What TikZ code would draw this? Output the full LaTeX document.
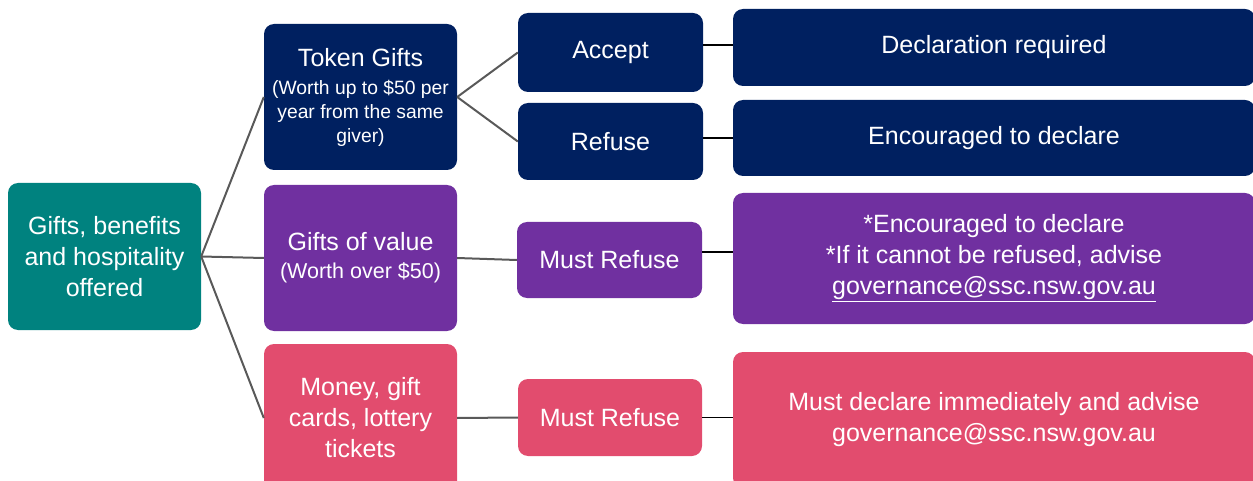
\documentclass[tikz,border=0pt]{standalone}
\usepackage{fontspec}
\setmainfont{Liberation Sans}
\definecolor{cteal}{HTML}{00827F}
\definecolor{cnavy}{HTML}{002060}
\definecolor{cpurple}{HTML}{7030A0}
\definecolor{cpink}{HTML}{E24C6E}
\definecolor{cline}{HTML}{595959}
\newcommand{\smallsz}{\fontsize{19.3}{24}\selectfont}
\newcommand{\midsz}{\fontsize{21.5}{28}\selectfont}
\begin{document}
\begin{tikzpicture}[x=1pt,y=-1pt,
  box/.style={rounded corners=10pt, text=white, align=center, inner sep=0pt,
    font=\fontsize{25}{31}\selectfont},
  link/.style={draw=cline, line width=2pt},
  tie/.style={draw=black, line width=1.5pt}]
\useasboundingbox (0,0) rectangle (1253,481);
\clip (0,0) rectangle (1253,481);
% first level
\node[box, fill=cteal, minimum width=193pt, minimum height=147pt] (root) at (104.5,256.5)
  {Gifts, benefits\\and hospitality\\offered};
% second level
\node[box, fill=cnavy, minimum width=193pt, minimum height=146pt] (tok) at (360.5,97)
  {Token Gifts\\[-3pt]\smallsz (Worth up to \$50 per\\[-7pt]\smallsz year from the same\\[-7pt]\smallsz giver)};
\node[box, fill=cpurple, minimum width=193pt, minimum height=146pt] (val) at (360.5,258)
  {Gifts of value\\[-3pt]\midsz (Worth over \$50)};
\node[box, fill=cpink, minimum width=193pt, minimum height=148pt] (mon) at (360.5,418)
  {Money, gift\\cards, lottery\\tickets};
% third level
\node[box, fill=cnavy, minimum width=185pt, minimum height=79pt] (acc) at (610.5,52.5) {Accept};
\node[box, fill=cnavy, minimum width=185pt, minimum height=77pt] (ref) at (610.5,141.5) {Refuse};
\node[box, fill=cpurple, minimum width=185pt, minimum height=76pt] (mr1) at (609.5,260) {Must Refuse};
\node[box, fill=cpink, minimum width=184pt, minimum height=77pt] (mr2) at (610,417.5) {Must Refuse};
% outcomes
\node[box, fill=cnavy, minimum width=522pt, minimum height=77pt] (dec) at (994,47.5) {Declaration required};
\node[box, fill=cnavy, minimum width=522pt, minimum height=76pt] (enc) at (994,138) {Encouraged to declare};
\node[box, fill=cpurple, minimum width=522pt, minimum height=131pt] (vdec) at (994,258.5)
  {*Encouraged to declare\\*If it cannot be refused, advise\\\underline{governance@ssc.nsw.gov.au}};
\node[box, fill=cpink, minimum width=522pt, minimum height=136pt] (mdec) at (994,420)
  {Must declare immediately and advise\\governance@ssc.nsw.gov.au};
% connectors
\draw[link] (root.east) -- (tok.west);
\draw[link] (root.east) -- (val.west);
\draw[link] (root.east) -- (mon.west);
\draw[link] (tok.east) -- (acc.west);
\draw[link] (tok.east) -- (ref.west);
\draw[link] (val.east) -- (mr1.west);
\draw[link] (mon.east) -- (mr2.west);
\coordinate (t0) at (0,45);
\coordinate (t1) at (0,252);
\draw[tie] (acc.east |- t0) -- (dec.west |- t0);
\draw[tie] (ref.east |- enc.west) -- (enc.west);
\draw[tie] (mr1.east |- t1) -- (vdec.west |- t1);
\draw[tie] (mr2.east) -- (mr2.east -| mdec.west);
\end{tikzpicture}
\end{document}
